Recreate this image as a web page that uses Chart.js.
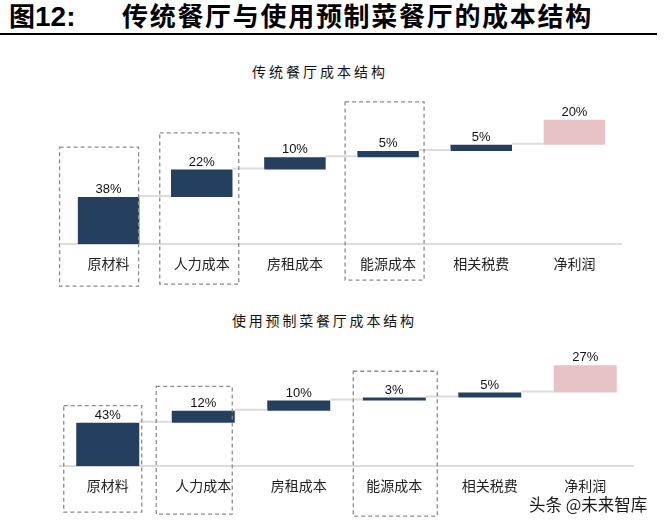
<!DOCTYPE html>
<html lang="zh">
<head>
<meta charset="utf-8">
<title>传统餐厅与使用预制菜餐厅的成本结构</title>
<script src="https://cdn.jsdelivr.net/npm/chart.js@4.4.1/dist/chart.umd.min.js"></script>
<style>
  html, body { margin: 0; padding: 0; background: #fff; }
  body { width: 666px; height: 530px; position: relative; overflow: hidden;
         font-family: "Noto Sans CJK SC", sans-serif; color: #000; }
  .fig-no { position: absolute; left: 9px; top: 0; font-size: 26px; line-height: 30px; font-weight: 700; }
  .fig-no span { font-family: "Liberation Sans", Arial, sans-serif; font-size: 28px; }
  .fig-title { position: absolute; left: 122px; top: 0; font-size: 26px; line-height: 30px;
               font-weight: 700; letter-spacing: 1.7px; white-space: nowrap; }
  .rule { position: absolute; left: 0; top: 33px; width: 657px; height: 2px; background: #000; }
  .sub { position: absolute; font-size: 14px; line-height: 16px; white-space: nowrap; color: #111; }
  #sub1 { left: 252px; top: 63px; letter-spacing: 3px; }
  #sub2 { left: 232px; top: 312px; letter-spacing: 2.8px; }
  canvas { position: absolute; left: 0; }
  #chart1 { top: 95px; }
  #chart2 { top: 345px; }
  .mark { position: absolute; left: 529px; top: 494px; font-size: 16.5px; line-height: 20px;
          color: #1a1a1a; white-space: nowrap; }
</style>
</head>
<body>
  <div class="fig-no">图<span>12:</span></div>
  <div class="fig-title">传统餐厅与使用预制菜餐厅的成本结构</div>
  <div class="rule"></div>

  <div class="sub" id="sub1">传统餐厅成本结构</div>
  <canvas id="chart1" width="666" height="200"></canvas>

  <div class="sub" id="sub2">使用预制菜餐厅成本结构</div>
  <canvas id="chart2" width="666" height="175"></canvas>

  <div class="mark">头条 @未来智库</div>

<script>
// data (share of revenue, %)
const categories = ['原材料', '人力成本', '房租成本', '能源成本', '相关税费', '净利润'];
const traditionalShares = [38, 22, 10, 5, 5, 20];
const prefabShares = [43, 12, 10, 3, 5, 27];

const costColor = '#253f5f';
const profitColor = '#e7c3c6';

/* labels, connector lines and dashed boxes of the waterfall */
const waterfallDecor = {
  id: 'waterfallDecor',
  afterDatasetsDraw(chart, args, opts) {
    const ctx = chart.ctx;
    const meta = chart.getDatasetMeta(0);
    const y = chart.scales.y;
    const ranges = chart.data.datasets[0].data;
    ctx.save();

    // connectors between bars
    ctx.strokeStyle = '#dcdcdc';
    ctx.lineWidth = 2;
    for (let i = 0; i < meta.data.length - 1; i++) {
      const a = meta.data[i], b = meta.data[i + 1];
      const yy = y.getPixelForValue(ranges[i][1]) - 1;
      ctx.beginPath();
      ctx.moveTo(a.x + a.width / 2, yy);
      ctx.lineTo(b.x - b.width / 2, yy);
      ctx.stroke();
    }

    // value labels
    ctx.font = '13px "Liberation Sans", Arial, sans-serif';
    ctx.fillStyle = '#111';
    ctx.textAlign = 'center';
    ctx.textBaseline = 'bottom';
    meta.data.forEach((bar, i) => {
      const r = ranges[i];
      ctx.fillText((r[1] - r[0]) + '%', bar.x, y.getPixelForValue(r[1]) - 1);
    });

    // dashed boxes
    ctx.setLineDash([4, 3]);
    ctx.strokeStyle = '#8c8c8c';
    ctx.lineWidth = 1.3;
    opts.boxes.forEach(bx => {
      const bar = meta.data[bx.index];
      const left = bar.x + bx.dx - bx.width / 2;
      const top = y.getPixelForValue(bx.top);
      const bottom = chart.chartArea.bottom + bx.below;
      ctx.strokeRect(left, top, bx.width, bottom - top);
    });
    ctx.restore();
  }
};

function buildChart(id, shares, pad, yMax, boxes) {
  let run = 0;
  const ranges = shares.map(v => { const r = [run, run + v]; run += v; return r; });
  return new Chart(document.getElementById(id), {
    type: 'bar',
    data: {
      labels: categories,
      datasets: [{
        data: ranges,
        backgroundColor: shares.map((v, i) => i === shares.length - 1 ? profitColor : costColor),
        borderWidth: 0,
        barPercentage: 0.66,
        categoryPercentage: 1
      }]
    },
    options: {
      responsive: false,
      animation: false,
      events: [],
      layout: { padding: pad },
      plugins: {
        legend: { display: false },
        tooltip: { enabled: false },
        waterfallDecor: { boxes: boxes }
      },
      scales: {
        x: {
          grid: { display: false, drawTicks: false },
          border: { display: true, color: '#dcdcdc', width: 2 },
          ticks: { padding: 11, maxRotation: 0, color: '#222',
                   font: { family: '"Noto Sans CJK SC"', size: 14 } }
        },
        y: { display: false, min: 0, max: yMax }
      }
    },
    plugins: [waterfallDecor]
  });
}

buildChart('chart1', traditionalShares, { left: 62, right: 45, top: 0, bottom: 12 }, 120, [
  { index: 0, top: 78, dx: -9.5, width: 79, below: 42 },
  { index: 1, top: 89.5, dx: -2.5, width: 79, below: 40 },
  { index: 3, top: 114.5, dx: -3.5, width: 79, below: 36 }
]);

buildChart('chart2', prefabShares, { left: 60, right: 33, top: 0, bottom: 15 }, 120, [
  { index: 0, top: 60, dx: -5, width: 78, below: 46 },
  { index: 1, top: 79, dx: -9, width: 76, below: 48 },
  { index: 3, top: 94, dx: 1, width: 84, below: 50 }
]);
</script>
</body>
</html>
